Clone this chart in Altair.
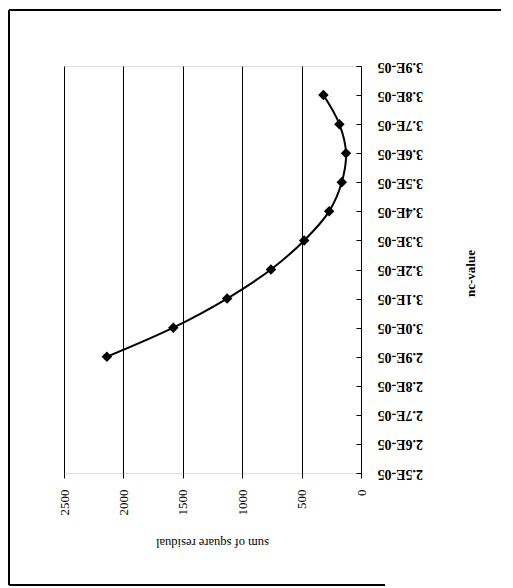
import altair as alt
import pandas as pd

nc_values = [2.9e-05, 3.0e-05, 3.1e-05, 3.2e-05, 3.3e-05, 3.4e-05, 3.5e-05, 3.6e-05, 3.7e-05, 3.8e-05]
ssr_values = [2139, 1580, 1127, 758, 478, 268, 162, 126, 182, 316]
x_ticks = [0, 500, 1000, 1500, 2000, 2500]
y_ticks = [2.5e-05, 2.6e-05, 2.7e-05, 2.8e-05, 2.9e-05, 3.0e-05, 3.1e-05, 3.2e-05,
           3.3e-05, 3.4e-05, 3.5e-05, 3.6e-05, 3.7e-05, 3.8e-05, 3.9e-05]

df = pd.DataFrame({"nc": nc_values, "ssr": ssr_values, "i": list(range(len(nc_values)))})

FONT = "Liberation Serif"

x_enc = alt.X(
    "ssr:Q",
    scale=alt.Scale(domain=[0, 2500], reverse=True, nice=False, zero=False),
    axis=alt.Axis(
        values=x_ticks, orient="bottom", domain=False, grid=True, format="d",
        gridColor="black", gridOpacity=1, gridWidth=1,
        tickColor="black", tickSize=5, tickWidth=1,
        labelAngle=270, labelAlign="right", labelBaseline="middle",
        labelFont=FONT, labelFontSize=13, labelColor="black", labelPadding=11,
        title="sum of square residual", titleFont=FONT, titleFontSize=12.5,
        titleFontWeight="normal", titleColor="black", titleAngle=180,
        titleAlign="center", titleBaseline="middle", titleX=148, titleY=69,
    ),
)

y_enc = alt.Y(
    "nc:Q",
    scale=alt.Scale(domain=[2.5e-05, 3.9e-05], nice=False, zero=False),
    axis=alt.Axis(
        values=y_ticks, orient="right", offset=-5, domain=False, grid=False,
        tickColor="black", tickSize=5, tickWidth=1,
        labelExpr="format(datum.value * 100000, '.1f') + 'E-05'",
        labelAngle=180, labelAlign="right", labelBaseline="middle",
        labelFont=FONT, labelFontSize=14, labelFontWeight="bold",
        labelColor="black", labelPadding=16,
        title="nc-value", titleFont=FONT, titleFontSize=13, titleFontWeight="bold",
        titleColor="black", titleAngle=270, titleAlign="center",
        titleBaseline="middle", titleX=114, titleY=207,
    ),
)

base = alt.Chart(df)

line = base.mark_line(interpolate="catmull-rom", color="black", strokeWidth=2).encode(
    x=x_enc, y=y_enc, order="i:Q"
)
pts = base.mark_point(shape="diamond", filled=True, color="black", size=110, opacity=1).encode(
    x=x_enc, y=y_enc
)

frame_top = alt.Chart(df).mark_rule(color="black", strokeWidth=1.3).encode(
    x=alt.value(-55), x2=alt.value(449), y=alt.value(-56)
)
frame_left = alt.Chart(df).mark_rule(color="black", strokeWidth=1.3).encode(
    x=alt.value(-55), y=alt.value(-56), y2=alt.value(519)
)
frame_bottom = alt.Chart(df).mark_rule(color="black", strokeWidth=1.3).encode(
    x=alt.value(-55), x2=alt.value(321), y=alt.value(519)
)

chart = alt.layer(frame_top, frame_left, frame_bottom, line, pts).properties(
    width=297, height=407,
    autosize=alt.AutoSizeParams(type="none"),
    padding={"left": 56, "top": 58, "right": 140, "bottom": 113},
).configure_view(stroke="black", strokeWidth=1).configure(background="white")

chart.save("out.html", embed_options={"renderer": "svg", "actions": False})
